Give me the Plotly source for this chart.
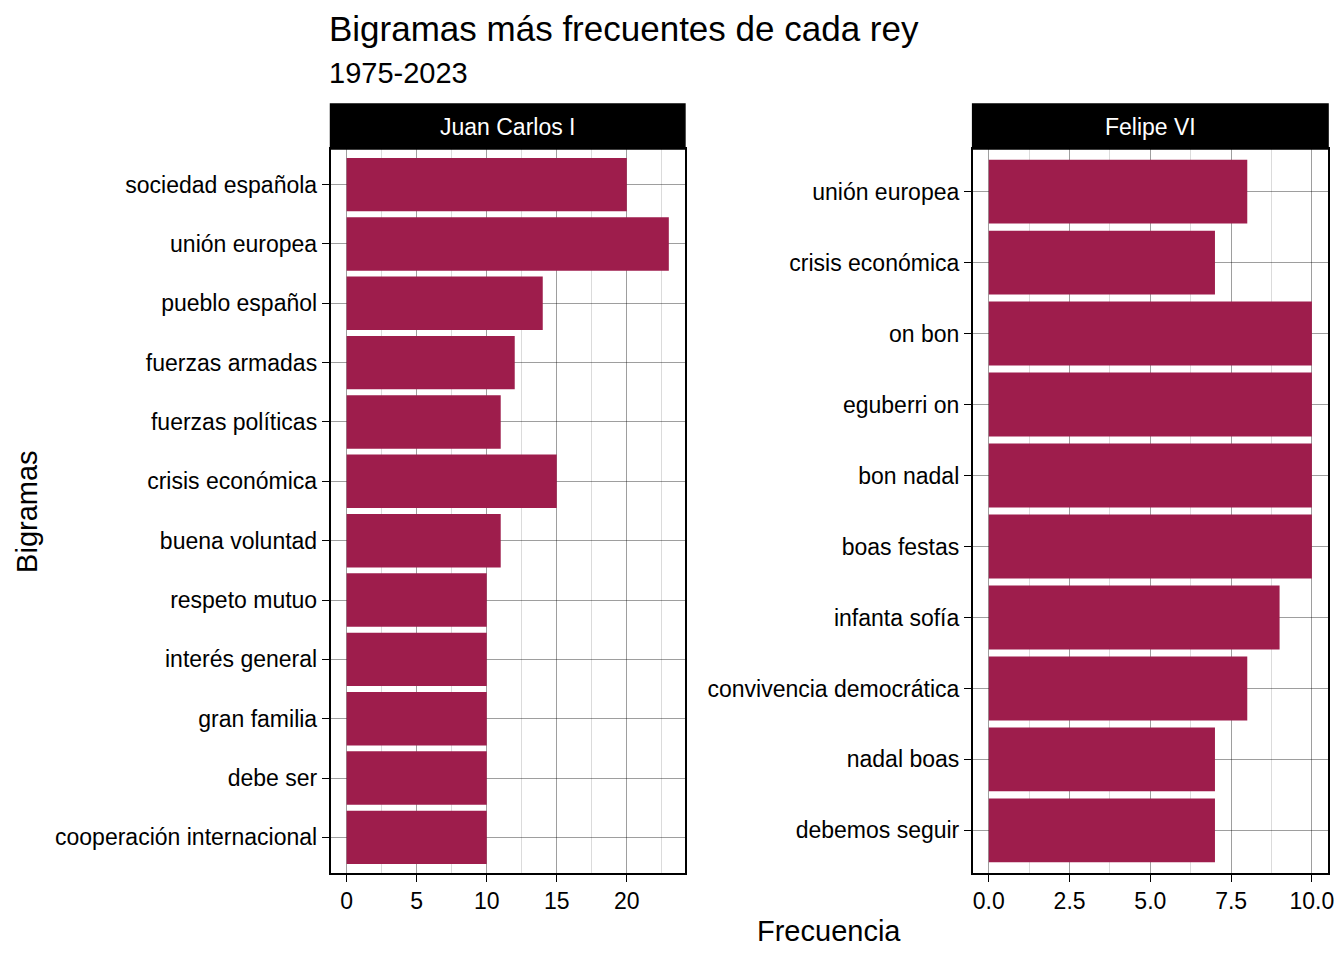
import plotly.graph_objects as go

# ---- data ----
jc_bigrams = ["sociedad española", "unión europea", "pueblo español", "fuerzas armadas",
              "fuerzas políticas", "crisis económica", "buena voluntad", "respeto mutuo",
              "interés general", "gran familia", "debe ser", "cooperación internacional"]
jc_freq = [20, 23, 14, 12, 11, 15, 11, 10, 10, 10, 10, 10]

f6_bigrams = ["unión europea", "crisis económica", "on bon", "eguberri on", "bon nadal",
              "boas festas", "infanta sofía", "convivencia democrática", "nadal boas",
              "debemos seguir"]
f6_freq = [8, 7, 10, 10, 10, 10, 9, 8, 7, 7]

panel_titles = ["Juan Carlos I", "Felipe VI"]
title = "Bigramas más frecuentes de cada rey"
subtitle = "1975-2023"
x_title = "Frecuencia"
y_title = "Bigramas"

BAR = "#9E1D4C"
FONT = "Liberation Sans, Arial, Helvetica, sans-serif"
W, H = 1344, 960

fig = go.Figure()
fig.add_trace(go.Bar(y=jc_bigrams, x=jc_freq, orientation="h", marker_color=BAR,
                     marker_line_width=0, width=0.9, xaxis="x", yaxis="y",
                     showlegend=False, hoverinfo="x+y"))
fig.add_trace(go.Bar(y=f6_bigrams, x=f6_freq, orientation="h", marker_color=BAR,
                     marker_line_width=0, width=0.9, xaxis="x2", yaxis="y2",
                     showlegend=False, hoverinfo="x+y"))

def px_x(v):
    return v / W

def px_y(v):
    return 1 - v / H

dom_y = [px_y(873), px_y(149)]
dom_x1 = [px_x(332), px_x(688)]
dom_x2 = [px_x(977), px_x(1334)]

major = "rgba(0,0,0,0.38)"
minor = "rgba(0,0,0,0.14)"

common_x = dict(showgrid=True, gridcolor=major, gridwidth=1, zeroline=False,
                showline=True, linecolor="black", linewidth=1.5, mirror=True,
                ticks="outside", ticklen=7, tickwidth=1.2, tickcolor="black",
                tickfont=dict(family=FONT, size=23, color="black"))
common_y = dict(showgrid=True, gridcolor=major, gridwidth=1, zeroline=False,
                showline=True, linecolor="black", linewidth=1.5, mirror=True,
                ticks="outside", ticklen=7, tickwidth=1.2, tickcolor="black",
                tickfont=dict(family=FONT, size=23, color="black"),
                type="category")

fig.update_layout(
    width=W, height=H,
    margin=dict(l=0, r=0, t=0, b=0),
    paper_bgcolor="white", plot_bgcolor="white",
    bargap=0.1,
    xaxis=dict(domain=dom_x1, anchor="y", range=[-1.15, 24.15], tickmode="linear",
               tick0=0, dtick=5,
               minor=dict(showgrid=True, gridcolor=minor, gridwidth=1, tick0=0, dtick=2.5),
               **common_x),
    yaxis=dict(domain=dom_y, anchor="x", categoryorder="array",
               categoryarray=jc_bigrams[::-1], range=[-0.6, 11.6], **common_y),
    xaxis2=dict(domain=dom_x2, anchor="y2", range=[-0.5, 10.5], tickmode="linear",
                tick0=0, dtick=2.5, tickformat=".1f",
                minor=dict(showgrid=True, gridcolor=minor, gridwidth=1, tick0=0, dtick=1.25),
                **common_x),
    yaxis2=dict(domain=dom_y, anchor="x2", categoryorder="array",
                categoryarray=f6_bigrams[::-1], range=[-0.6, 9.6], **common_y),
)

shapes = []
annotations = []
for dom, name in zip([dom_x1, dom_x2], panel_titles):
    shapes.append(dict(type="rect", xref="paper", yref="paper",
                       x0=dom[0], x1=dom[1], y0=px_y(149), y1=px_y(104),
                       fillcolor="black", line=dict(color="black", width=1.5)))
    annotations.append(dict(text=name, xref="paper", yref="paper",
                            x=(dom[0] + dom[1]) / 2, y=px_y(127),
                            xanchor="center", yanchor="middle", showarrow=False,
                            font=dict(family=FONT, size=23, color="white")))

annotations.append(dict(text=title, xref="paper", yref="paper", x=px_x(328), y=px_y(29),
                        xanchor="left", yanchor="middle", showarrow=False,
                        font=dict(family=FONT, size=35, color="black")))
annotations.append(dict(text=subtitle, xref="paper", yref="paper", x=px_x(328), y=px_y(73),
                        xanchor="left", yanchor="middle", showarrow=False,
                        font=dict(family=FONT, size=29, color="black")))
annotations.append(dict(text=x_title, xref="paper", yref="paper",
                        x=(dom_x1[0] + dom_x2[1]) / 2, y=px_y(931),
                        xanchor="center", yanchor="middle", showarrow=False,
                        font=dict(family=FONT, size=29, color="black")))
annotations.append(dict(text=y_title, xref="paper", yref="paper", x=px_x(27), y=px_y(511),
                        xanchor="center", yanchor="middle", showarrow=False, textangle=-90,
                        font=dict(family=FONT, size=29, color="black")))

fig.update_layout(shapes=shapes, annotations=annotations)
fig.write_html("out.html")
